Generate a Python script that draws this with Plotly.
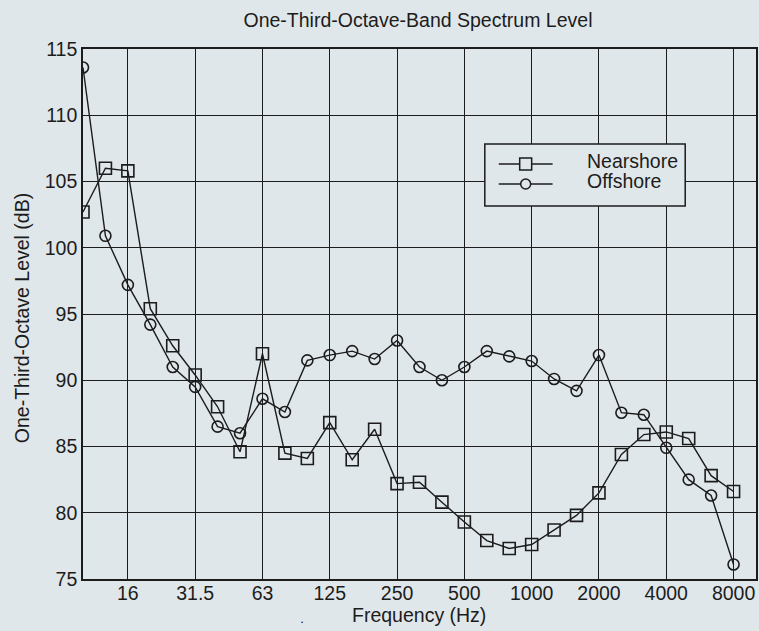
import plotly.graph_objects as go

bands = ["10", "12.5", "16", "20", "25", "31.5", "40", "50", "63", "80", "100", "125",
         "160", "200", "250", "315", "400", "500", "630", "800", "1000", "1250", "1600",
         "2000", "2500", "3150", "4000", "5000", "6300", "8000"]
nearshore = [102.7, 106.0, 105.8, 95.4, 92.6, 90.4, 88.0, 84.6, 92.0, 84.5, 84.1, 86.8,
             84.0, 86.3, 82.2, 82.3, 80.8, 79.3, 77.9, 77.3, 77.6, 78.7, 79.8, 81.5,
             84.4, 85.9, 86.1, 85.6, 82.8, 81.6]
offshore = [113.6, 100.9, 97.2, 94.2, 91.0, 89.5, 86.5, 86.0, 88.6, 87.6, 91.5, 91.9,
            92.2, 91.6, 93.0, 91.0, 90.0, 91.0, 92.2, 91.8, 91.45, 90.1, 89.2, 91.9,
            87.55, 87.4, 84.9, 82.5, 81.3, 76.1]
xticks = ["16", "31.5", "63", "125", "250", "500", "1000", "2000", "4000", "8000"]
yticks = [75, 80, 85, 90, 95, 100, 105, 110, 115]

W, H = 759, 631
# plot area in page pixels: x 83..758, y 49..579
PL, PR, PT, PB = 83, 758, 49, 579
L, T = PL, PT
R, B = W - PR, H - PB
PW, PH = PR - PL, PB - PT
BG = "#e0e7ea"
INK = "#1c1c1c"
FONT = "Liberation Sans, Arial, sans-serif"
FS = 19.5


def px(x):
    return (x - PL) / PW


def py(y):
    return (PB - y) / PH


fig = go.Figure()
fig.add_trace(go.Scatter(
    x=bands, y=nearshore, name="Nearshore", mode="lines+markers",
    line=dict(color=INK, width=1.4),
    marker=dict(symbol="square-open", size=12, color=INK, line=dict(width=1.6)),
))
fig.add_trace(go.Scatter(
    x=bands, y=offshore, name="Offshore", mode="lines+markers",
    line=dict(color=INK, width=1.4),
    marker=dict(symbol="circle-open", size=11, color=INK, line=dict(width=1.6)),
))

shapes = []
shapes.append(dict(type="rect", xref="paper", yref="paper",
                   x0=px(486), x1=px(687), y0=py(206), y1=py(144),
                   line=dict(color=INK, width=1.5), fillcolor=BG, layer="above"))
for yy in (164, 184):
    shapes.append(dict(type="line", xref="paper", yref="paper",
                       x0=px(500), x1=px(554), y0=py(yy), y1=py(yy),
                       line=dict(color=INK, width=1.4), layer="above"))
shapes.append(dict(type="rect", xref="paper", yref="paper",
                   x0=px(521), x1=px(533), y0=py(170), y1=py(158),
                   line=dict(color=INK, width=1.5), fillcolor=BG, layer="above"))
shapes.append(dict(type="circle", xref="paper", yref="paper",
                   x0=px(522), x1=px(532), y0=py(189), y1=py(179),
                   line=dict(color=INK, width=1.5), fillcolor=BG, layer="above"))

annotations = [
    dict(text="Nearshore", x=px(586), y=py(161), xref="paper", yref="paper",
         xanchor="left", yanchor="middle", showarrow=False,
         font=dict(size=FS, color=INK, family=FONT)),
    dict(text="Offshore", x=px(586), y=py(181), xref="paper", yref="paper",
         xanchor="left", yanchor="middle", showarrow=False,
         font=dict(size=FS, color=INK, family=FONT)),
    dict(text="Frequency (Hz)", x=px(420), y=py(615), xref="paper", yref="paper",
         xanchor="center", yanchor="middle", showarrow=False,
         font=dict(size=FS, color=INK, family=FONT)),
    dict(text="One-Third-Octave Level (dB)", x=px(22), y=py(318), xref="paper",
         yref="paper", xanchor="center", yanchor="middle", textangle=-90,
         showarrow=False, font=dict(size=FS, color=INK, family=FONT)),
    dict(text="•", x=px(303), y=py(622), xref="paper", yref="paper",
         xanchor="center", yanchor="middle", showarrow=False,
         font=dict(size=6, color=INK, family=FONT)),
]

fig.update_layout(
    width=W, height=H,
    margin=dict(l=L, r=R, t=T, b=B, pad=0),
    paper_bgcolor=BG, plot_bgcolor=BG,
    showlegend=False,
    font=dict(family=FONT, size=FS, color=INK),
    title=dict(text="One-Third-Octave-Band Spectrum Level", x=px(419), xanchor="center",
               xref="paper", y=1 - 20 / H, yanchor="middle",
               font=dict(size=FS, color=INK, family=FONT)),
    shapes=shapes,
    annotations=annotations,
)
fig.update_xaxes(
    type="category", categoryorder="array", categoryarray=bands,
    range=[0, 30], tickmode="array", tickvals=xticks, ticktext=xticks,
    showgrid=True, gridcolor=INK, gridwidth=1.4,
    showline=True, linecolor=INK, linewidth=1.6, mirror=True,
    ticks="", zeroline=False, ticklabelstandoff=-4,
    tickfont=dict(size=FS, color=INK, family=FONT),
)
fig.update_yaxes(
    range=[75, 115], tickmode="array", tickvals=yticks,
    showgrid=True, gridcolor=INK, gridwidth=1.4,
    showline=True, linecolor=INK, linewidth=1.6, mirror=True,
    ticks="", zeroline=False,
    tickfont=dict(size=FS, color=INK, family=FONT),
)

fig.write_html(
    "out.html",
    config={"displayModeBar": False},
    post_script="document.body.style.margin='0';"
                "document.documentElement.style.overflow='hidden';",
)
